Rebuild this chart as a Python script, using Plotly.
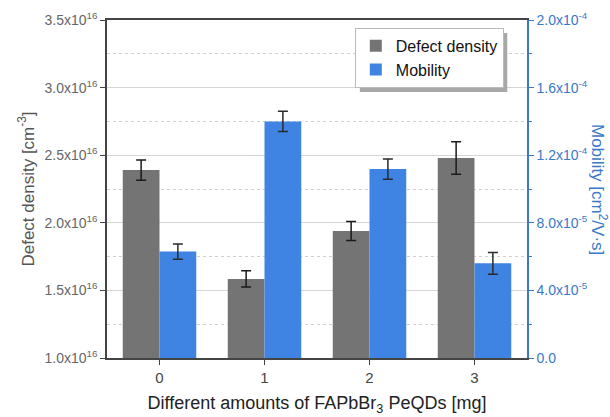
import plotly.graph_objects as go

categories = [0, 1, 2, 3]
defect_density = [2.39e16, 1.585e16, 1.94e16, 2.48e16]
defect_err = [0.075e16, 0.06e16, 0.07e16, 0.12e16]
mobility = [6.3e-5, 1.40e-4, 1.118e-4, 5.6e-5]
mobility_err = [0.45e-5, 0.6e-5, 0.6e-5, 0.65e-5]

left_tickvals = [1.0e16, 1.5e16, 2.0e16, 2.5e16, 3.0e16, 3.5e16]
left_ticktext = ["1.0x10<sup>16</sup>", "1.5x10<sup>16</sup>", "2.0x10<sup>16</sup>",
                 "2.5x10<sup>16</sup>", "3.0x10<sup>16</sup>", "3.5x10<sup>16</sup>"]
right_tickvals = [0, 4e-5, 8e-5, 1.2e-4, 1.6e-4, 2.0e-4]
right_ticktext = ["0.0", "4.0x10<sup>-5</sup>", "8.0x10<sup>-5</sup>", "1.2x10<sup>-4</sup>",
                  "1.6x10<sup>-4</sup>", "2.0x10<sup>-4</sup>"]

FONT = "Liberation Sans, Arial, sans-serif"
BLUE_AX = "#3a78c8"

fig = go.Figure()
fig.add_trace(go.Bar(
    x=categories, y=defect_density, name="Defect density",
    width=0.35, offset=-0.35,
    marker=dict(color="#747474", line=dict(width=0)),
    error_y=dict(type="data", array=defect_err, color="#1a1a1a", thickness=1.5, width=5),
    yaxis="y",
))
fig.add_trace(go.Bar(
    x=categories, y=mobility, name="Mobility",
    width=0.35, offset=0,
    marker=dict(color="#3f84e2", line=dict(width=0)),
    error_y=dict(type="data", array=mobility_err, color="#2a2a2a", thickness=1.5, width=5),
    yaxis="y2",
))

fig.update_layout(
    width=610, height=417,
    margin=dict(l=107, r=83, t=20, b=59),
    paper_bgcolor="white", plot_bgcolor="white",
    font=dict(family=FONT, size=13, color="#555555"),
    showlegend=True,
    legend=dict(
        x=0.59, y=0.977, xanchor="left", yanchor="top",
        bgcolor="white", bordercolor="#bbbbbb", borderwidth=1,
        font=dict(size=16, color="#111111"),
        itemsizing="constant", tracegroupgap=0,
    ),
    xaxis=dict(
        range=[-0.5, 3.5], tickvals=categories, ticktext=[str(c) for c in categories],
        ticks="outside", ticklen=5, tickcolor="#444444",
        showline=True, linecolor="#444444", linewidth=1.5, mirror=True,
        showgrid=False, zeroline=False, automargin=False,
        tickfont=dict(size=15, color="#444444"),
        title=dict(text="Different amounts of FAPbBr<sub>3</sub> PeQDs [mg]",
                   font=dict(size=18, color="#222222"), standoff=12),
    ),
    yaxis=dict(
        range=[1.0e16, 3.5e16], tickmode="array", tickvals=left_tickvals, ticktext=left_ticktext,
        ticks="outside", ticklen=5, tickcolor="#444444",
        showline=True, linecolor="#444444", linewidth=1.5,
        showgrid=True, gridcolor="#d6d6d6", gridwidth=1,
        zeroline=False, automargin=False,
        minor=dict(tick0=1.0e16, dtick=0.25e16, showgrid=True, gridcolor="#d0d0d0",
                   griddash="dot", ticks=""),
        tickfont=dict(size=14, color="#666666"),
        title=dict(text="Defect density [cm<sup>-3</sup>]", font=dict(size=17, color="#555555"),
                   standoff=6),
    ),
    yaxis2=dict(
        range=[0, 2.0e-4], overlaying="y", side="right", anchor="x",
        tickmode="array", tickvals=right_tickvals, ticktext=right_ticktext,
        ticks="outside", ticklen=5, tickcolor=BLUE_AX,
        showline=True, linecolor=BLUE_AX, linewidth=1.5,
        showgrid=False, zeroline=False, automargin=False,
        minor=dict(tick0=0, dtick=2e-5, ticks="outside", ticklen=3, tickcolor=BLUE_AX, showgrid=False),
        tickfont=dict(size=14, color=BLUE_AX),
    ),
    shapes=[dict(
        type="rect", xref="paper", yref="paper",
        x0=0.602, x1=0.953, y0=0.787, y1=0.9615,
        fillcolor="#a8a8a8", line=dict(width=0), layer="above",
    )],
    annotations=[dict(
        text="Mobility [cm<sup>2</sup>/V·s]", textangle=90,
        xref="paper", yref="paper", x=1.0, y=0.5, xshift=72,
        xanchor="center", yanchor="middle", showarrow=False,
        font=dict(family=FONT, size=17, color=BLUE_AX),
    )],
)

fig.write_html("out.html")
